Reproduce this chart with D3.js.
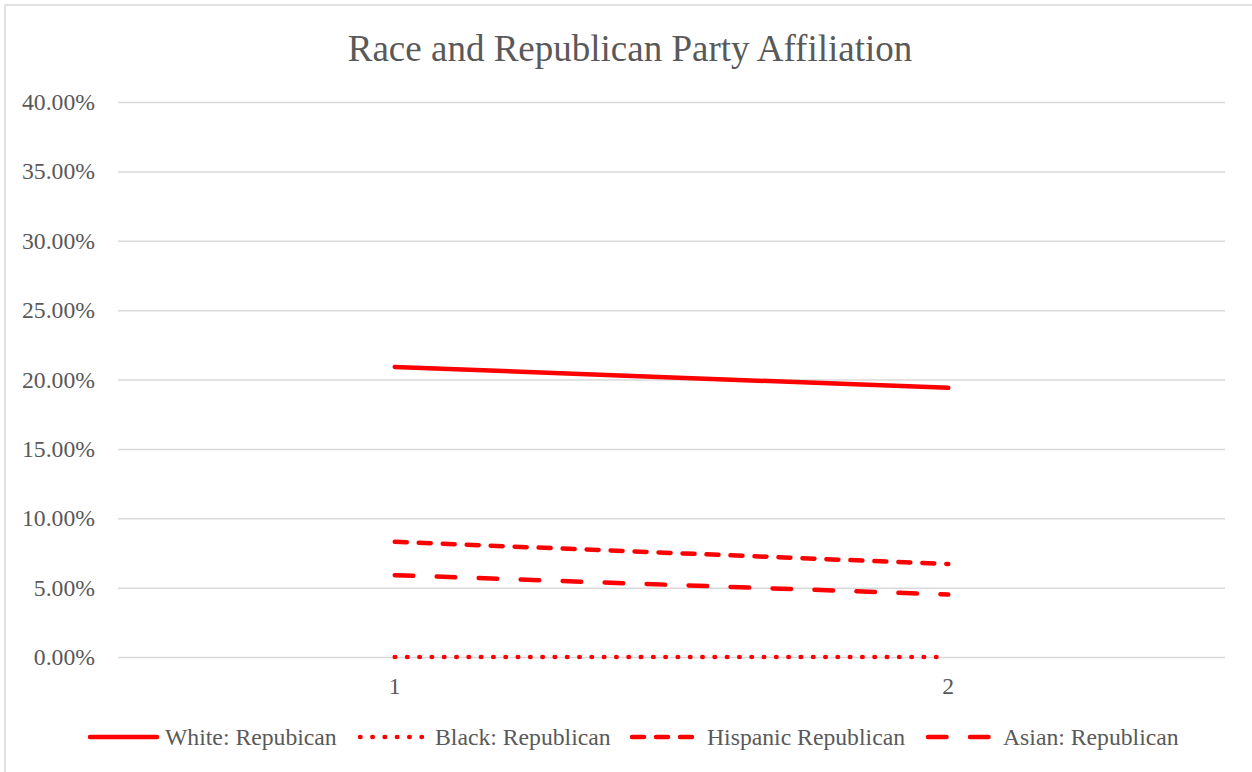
<!DOCTYPE html>
<html>
<head>
<meta charset="utf-8">
<script src="https://cdn.jsdelivr.net/npm/d3@7"></script>
<style>
  html, body { margin: 0; padding: 0; background: #fff; }
  svg { display: block; }
</style>
</head>
<body>
<svg id="chart" width="1252" height="772"></svg>
<script>
const categories = ["1", "2"];
const seriesNames = ["White: Repubican", "Black: Republican", "Hispanic Republican", "Asian: Republican"];
const whiteValues = [0.209, 0.194];
const blackValues = [0.0, 0.0];
const hispanicValues = [0.083, 0.067];
const asianValues = [0.059, 0.045];
const yTicks = [0, 0.05, 0.10, 0.15, 0.20, 0.25, 0.30, 0.35, 0.40];

const series = [
  { name: seriesNames[0], values: whiteValues, dash: null },
  { name: seriesNames[1], values: blackValues, dash: "0.5 11.8" },
  { name: seriesNames[2], values: hispanicValues, dash: "12 12" },
  { name: seriesNames[3], values: asianValues, dash: "18.5 23.5" }
];

const svg = d3.select("#chart");
const font = "'Liberation Serif', 'Times New Roman', serif";
const textColor = "#595959";
const gridColor = "#d9d9d9";
const red = "#ff0000";

// chart border
svg.append("rect")
  .attr("x", 5).attr("y", 5)
  .attr("width", 1260).attr("height", 780)
  .attr("fill", "none")
  .attr("stroke", gridColor)
  .attr("stroke-width", 1.5);

const plot = { left: 118, right: 1225, top: 102, bottom: 657 };

const x = d3.scaleBand().domain(categories).range([plot.left, plot.right]);
const y = d3.scaleLinear().domain([0, 0.40]).range([plot.bottom, plot.top]);

// title
svg.append("text")
  .attr("x", 630).attr("y", 61)
  .attr("text-anchor", "middle")
  .attr("font-family", font)
  .attr("font-size", 37)
  .attr("fill", textColor)
  .text("Race and Republican Party Affiliation");

// gridlines
const yAxis = d3.axisLeft(y).tickValues(yTicks)
  .tickSize(-(plot.right - plot.left))
  .tickPadding(23)
  .tickFormat(d => (d * 100).toFixed(2) + "%");

const gy = svg.append("g")
  .attr("transform", `translate(${plot.left},0)`)
  .call(yAxis);
gy.select(".domain").remove();
gy.selectAll(".tick line").attr("stroke", gridColor).attr("stroke-width", 1.5);
gy.selectAll(".tick text")
  .attr("font-family", font)
  .attr("font-size", 23.7)
  .attr("fill", textColor);

// x axis labels
const xAxis = d3.axisBottom(x).tickSize(0).tickPadding(20);
const gx = svg.append("g")
  .attr("transform", `translate(0,${plot.bottom})`)
  .call(xAxis);
gx.select(".domain").remove();
gx.selectAll(".tick text")
  .attr("font-family", font)
  .attr("font-size", 23.7)
  .attr("fill", textColor);

// lines
const line = d3.line()
  .x((d, i) => x(categories[i]) + x.bandwidth() / 2)
  .y(d => y(d));

series.forEach(s => {
  svg.append("path")
    .datum(s.values)
    .attr("d", line)
    .attr("fill", "none")
    .attr("stroke", red)
    .attr("stroke-width", 4.5)
    .attr("stroke-linecap", "round")
    .attr("stroke-linejoin", "round")
    .attr("stroke-dasharray", s.dash);
});

// legend
const legendY = 737;
const legendX = [90, 360, 632, 928];
const legend = svg.append("g");
series.forEach((s, i) => {
  const g = legend.append("g").attr("transform", `translate(${legendX[i]},${legendY})`);
  g.append("line")
    .attr("x1", 0).attr("x2", 67)
    .attr("y1", 0).attr("y2", 0)
    .attr("stroke", red)
    .attr("stroke-width", 4.5)
    .attr("stroke-linecap", "round")
    .attr("stroke-dasharray", s.dash);
  g.append("text")
    .attr("x", 75).attr("y", 0)
    .attr("dy", "0.33em")
    .attr("font-family", font)
    .attr("font-size", 23.7)
    .attr("fill", textColor)
    .text(s.name);
});
</script>
</body>
</html>
